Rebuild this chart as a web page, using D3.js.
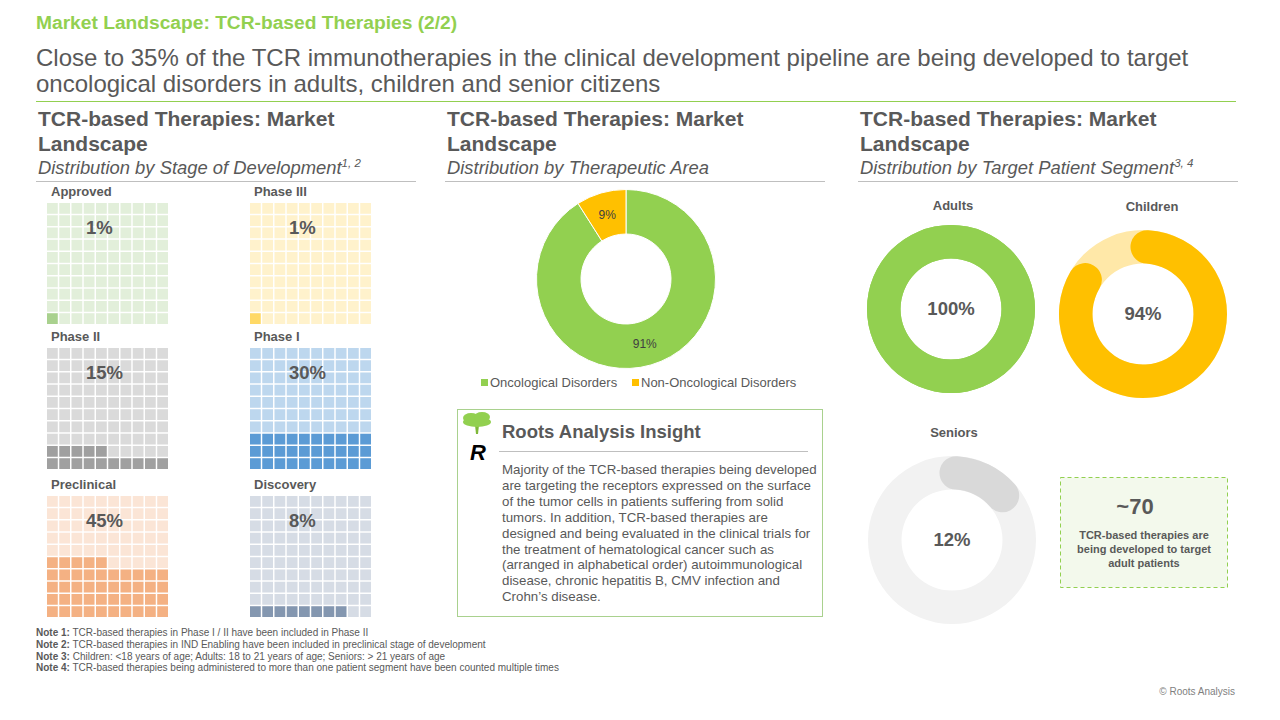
<!DOCTYPE html>
<html>
<head>
<meta charset="utf-8">
<script src="https://cdn.jsdelivr.net/npm/d3@7"></script>
<style>
  body { margin: 0; background: #fff; }
  svg text { font-family: "Liberation Sans", Arial, sans-serif; }
</style>
</head>
<body>
<svg id="chart" width="1280" height="720"></svg>
<script>
// distribution by stage of development (share of 100 waffle cells)
const stages = ["Approved", "Phase III", "Phase II", "Phase I", "Preclinical", "Discovery"];
const stageShare = [1, 1, 15, 30, 45, 8];

// distribution by therapeutic area
const areas = ["Oncological Disorders", "Non-Oncological Disorders"];
const areaShare = [91, 9];

// distribution by target patient segment
const segments = ["Adults", "Children", "Seniors"];
const segmentShare = [100, 94, 12];
// the rings as they are drawn on the slide (start and length, in %)
const segmentArcStart = [0, 1, 1];
const segmentArcLength = [100, 82.5, 12.5];

const panelTitles = ["Distribution by Stage of Development", "Distribution by Therapeutic Area", "Distribution by Target Patient Segment"];
const panelSups = ["1, 2", "", "3, 4"];

const insightLines = [
  "Majority of the TCR-based therapies being developed",
  "are targeting the receptors expressed on the surface",
  "of the tumor cells in patients suffering from solid",
  "tumors. In addition, TCR-based therapies are",
  "designed and being evaluated in the clinical trials for",
  "the treatment of hematological cancer such as",
  "(arranged in alphabetical order) autoimmunological",
  "disease, chronic hepatitis B, CMV infection and",
  "Crohn\u2019s disease."
];

const calloutNumber = "~70";
const calloutLines = ["TCR-based therapies are", "being developed to target", "adult patients"];

const notes = [
  ["Note 1:", " TCR-based therapies in Phase I / II have been included in Phase II"],
  ["Note 2:", " TCR-based therapies in IND Enabling have been included in preclinical stage of development"],
  ["Note 3:", " Children: <18 years of age; Adults: 18 to 21 years of age; Seniors: > 21 years of age"],
  ["Note 4:", " TCR-based therapies being administered to more than one patient segment have been counted multiple times"]
];

// colours
const green = "#92D050";
const textGray = "#595959";
const stageLight = ["#E2EFDA", "#FFF2CC", "#DADADA", "#BDD7EE", "#FBE5D6", "#D6DCE5"];
const stageDark = ["#A9D18E", "#FFD966", "#A0A0A0", "#5B9BD5", "#F4B183", "#8497B0"];
const areaColors = [green, "#FFC000"];
const segDark = [green, "#FFC000", "#D9D9D9"];
const segLight = [green, "#FFE8A8", "#F2F2F2"];

const svg = d3.select("#chart");

// header
svg.append("text").attr("x", 36).attr("y", 29)
  .attr("font-size", 19.2).attr("font-weight", "bold").attr("fill", green)
  .text("Market Landscape: TCR-based Therapies (2/2)");

svg.append("text").attr("x", 36).attr("y", 66).attr("font-size", 24).attr("fill", textGray)
  .text("Close to 35% of the TCR immunotherapies in the clinical development pipeline are being developed to target");
svg.append("text").attr("x", 36).attr("y", 92).attr("font-size", 24).attr("fill", textGray)
  .text("oncological disorders in adults, children and senior citizens");

svg.append("line").attr("x1", 36).attr("x2", 1236).attr("y1", 101.5).attr("y2", 101.5)
  .attr("stroke", green).attr("stroke-width", 1.2);

// panel headings
const panelX = [38, 447, 860];
panelX.forEach((px, i) => {
  svg.append("text").attr("x", px).attr("y", 126).attr("font-size", 21).attr("font-weight", "bold")
    .attr("fill", textGray).text("TCR-based Therapies: Market");
  svg.append("text").attr("x", px).attr("y", 151).attr("font-size", 21).attr("font-weight", "bold")
    .attr("fill", textGray).text("Landscape");
  const t = svg.append("text").attr("x", px).attr("y", 174).attr("font-size", 18.4)
    .attr("font-style", "italic").attr("fill", textGray);
  t.append("tspan").text(panelTitles[i]);
  if (panelSups[i]) t.append("tspan").attr("dy", -7).attr("font-size", 11.5).text(panelSups[i]);
  svg.append("line").attr("x1", px - 2).attr("x2", px + 378).attr("y1", 181.5).attr("y2", 181.5)
    .attr("stroke", "#BFBFBF").attr("stroke-width", 1);
});

// waffles
const cell = d3.scaleBand().domain(d3.range(10)).range([0, 121]).paddingInner(0.12);
const waffleX = [47, 250];
const waffleY = [203, 348, 496];

stages.forEach((name, s) => {
  const gx = waffleX[s % 2], gy = waffleY[Math.floor(s / 2)];
  const g = svg.append("g").attr("transform", `translate(${gx},${gy})`);
  g.selectAll("rect").data(d3.range(100)).join("rect")
    .attr("x", i => cell(i % 10))
    .attr("y", i => cell(9 - Math.floor(i / 10)))
    .attr("width", cell.bandwidth()).attr("height", cell.bandwidth())
    .attr("fill", i => i < stageShare[s] ? stageDark[s] : stageLight[s]);
  svg.append("text").attr("x", gx + 4).attr("y", gy - 7).attr("font-size", 13).attr("font-weight", "bold")
    .attr("fill", textGray).text(name);
  g.append("text").attr("x", 39).attr("y", 31)
    .attr("font-size", 18.5).attr("font-weight", "bold").attr("fill", textGray)
    .text(stageShare[s] + "%");
});

// therapeutic area donut
const pie = d3.pie().sort(null).value(d => d);
const areaArc = d3.arc().innerRadius(45).outerRadius(89.5);
const dg = svg.append("g").attr("transform", "translate(626,279)");
dg.selectAll("path").data(pie(areaShare)).join("path")
  .attr("d", areaArc).attr("fill", (d, i) => areaColors[i])
  .attr("stroke", "#fff").attr("stroke-width", 1);
dg.selectAll("text").data(pie(areaShare)).join("text")
  .attr("transform", d => `translate(${areaArc.centroid(d)})`)
  .attr("dy", "0.35em").attr("text-anchor", "middle")
  .attr("font-size", 12).attr("fill", "#404040")
  .text(d => d.data + "%");

const legX = [481, 632];
areas.forEach((a, i) => {
  svg.append("rect").attr("x", legX[i]).attr("y", 379).attr("width", 7).attr("height", 7).attr("fill", areaColors[i]);
  svg.append("text").attr("x", legX[i] + 9).attr("y", 387).attr("font-size", 13)
    .attr("fill", textGray).text(a);
});

// insight box
svg.append("rect").attr("x", 457.5).attr("y", 409.5).attr("width", 365).attr("height", 207)
  .attr("fill", "#fff").attr("stroke", "#A9D18E").attr("stroke-width", 1);
const logo = svg.append("g").attr("transform", "translate(477,423)");
logo.append("path").attr("d", "M-2,2 L-1,11 L1,11 L2,2 Z").attr("fill", "#7FB83A");
logo.append("ellipse").attr("cx", 0).attr("cy", -1).attr("rx", 14).attr("ry", 5).attr("fill", green);
logo.append("ellipse").attr("cx", -6).attr("cy", -5).attr("rx", 8).attr("ry", 5).attr("fill", green);
logo.append("ellipse").attr("cx", 5).attr("cy", -6).attr("rx", 8).attr("ry", 5).attr("fill", green);
logo.append("text").attr("x", 1).attr("y", 37).attr("text-anchor", "middle")
  .attr("font-family", "DejaVu Serif").attr("font-style", "italic").attr("font-weight", "bold")
  .attr("font-size", 22).attr("fill", "#000").text("R");
svg.append("text").attr("x", 502).attr("y", 438).attr("font-size", 18.5).attr("font-weight", "bold")
  .attr("fill", textGray).text("Roots Analysis Insight");
svg.append("line").attr("x1", 499).attr("x2", 808).attr("y1", 451.5).attr("y2", 451.5)
  .attr("stroke", "#BFBFBF");
svg.append("g").selectAll("text").data(insightLines).join("text")
  .attr("x", 502).attr("y", (d, i) => 474 + i * 15.9)
  .attr("font-size", 13.3).attr("fill", textGray).text(d => d);

// patient segment rings
const segCx = [951, 1143, 952];
const segCy = [309, 314, 540];
const segLabelY = [210, 211, 437];
const pct = d3.scaleLinear().domain([0, 100]).range([0, 2 * Math.PI]);
const ringTrack = d3.arc().innerRadius(50.5).outerRadius(84).startAngle(0).endAngle(2 * Math.PI);
const ringArc = d3.arc().innerRadius(50.5).outerRadius(84).cornerRadius(16.75);
const capAngle = Math.asin(16.75 / 67.25);

segments.forEach((name, i) => {
  const g = svg.append("g").attr("transform", `translate(${segCx[i]},${segCy[i]})`);
  g.append("path").attr("d", ringTrack()).attr("fill", segLight[i]);
  if (segmentArcLength[i] < 100) {
    g.append("path")
      .attr("d", ringArc({
        startAngle: pct(segmentArcStart[i]) - capAngle,
        endAngle: pct(segmentArcStart[i] + segmentArcLength[i]) + capAngle
      }))
      .attr("fill", segDark[i]);
  } else {
    g.append("path").attr("d", ringTrack()).attr("fill", segDark[i]);
  }
  g.append("text").attr("y", 6).attr("text-anchor", "middle")
    .attr("font-size", 18.5).attr("font-weight", "bold").attr("fill", textGray)
    .text(segmentShare[i] + "%");
  svg.append("text").attr("x", segCx[i] + (i === 1 ? 9 : 2)).attr("y", segLabelY[i])
    .attr("text-anchor", "middle").attr("font-size", 13).attr("font-weight", "bold")
    .attr("fill", textGray).text(name);
});

// callout box
svg.append("rect").attr("x", 1060.5).attr("y", 477.5).attr("width", 167).attr("height", 110)
  .attr("fill", "#F3F9EC").attr("stroke", green).attr("stroke-dasharray", "4,3");
svg.append("text").attr("x", 1135).attr("y", 514).attr("text-anchor", "middle")
  .attr("font-size", 22).attr("font-weight", "bold").attr("fill", textGray).text(calloutNumber);
svg.append("g").selectAll("text").data(calloutLines).join("text")
  .attr("x", 1144).attr("y", (d, i) => 539 + i * 14)
  .attr("text-anchor", "middle").attr("font-size", 11).attr("font-weight", "bold")
  .attr("fill", textGray).text(d => d);

// notes and footer
notes.forEach((n, i) => {
  const t = svg.append("text").attr("x", 36).attr("y", 636 + i * 11.8).attr("font-size", 10).attr("fill", textGray);
  t.append("tspan").attr("font-weight", "bold").text(n[0]);
  t.append("tspan").text(n[1]);
});
svg.append("text").attr("x", 1235).attr("y", 695).attr("text-anchor", "end")
  .attr("font-size", 10).attr("fill", "#7F7F7F").text("\u00A9 Roots Analysis");
</script>
</body>
</html>
